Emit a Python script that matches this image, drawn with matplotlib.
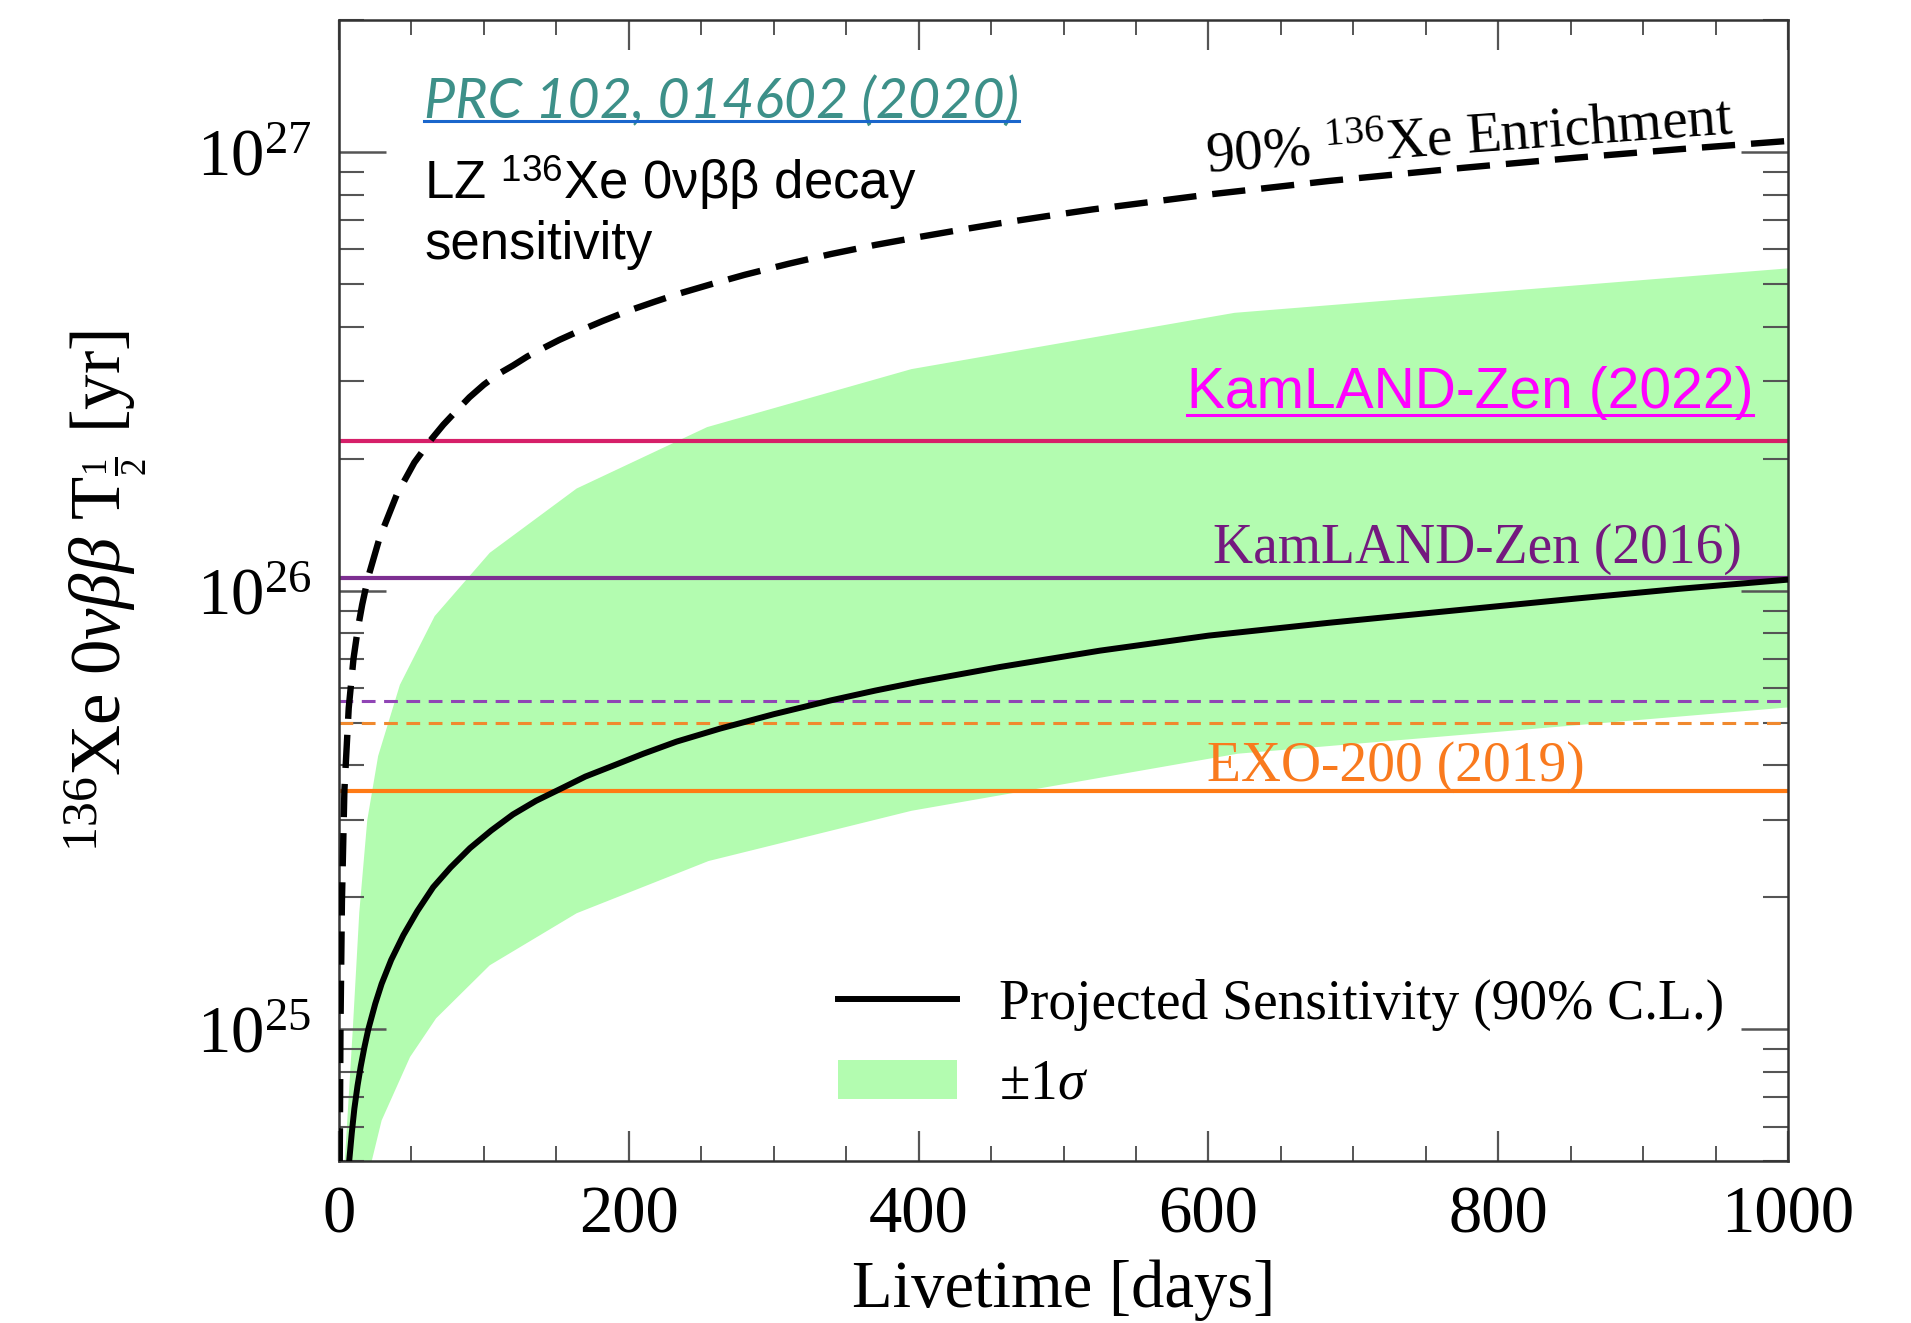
import numpy as np
import matplotlib
matplotlib.use('Agg')
import matplotlib.pyplot as plt
from matplotlib.lines import Line2D
from matplotlib import ticker

plt.rcParams['font.family'] = ['Liberation Serif', 'DejaVu Serif']
plt.rcParams['mathtext.fontset'] = 'custom'
plt.rcParams['mathtext.rm'] = 'Liberation Serif'
plt.rcParams['mathtext.it'] = 'Liberation Serif:italic'
plt.rcParams['mathtext.bf'] = 'Liberation Serif:bold'
plt.rcParams['mathtext.sf'] = 'Liberation Sans'

# ---------------- data ----------------
proj_days = [5, 7, 8.8, 10.6, 12.8, 15, 17.5, 20.2, 25, 29.4, 36, 44.4, 54, 65,
             77, 90.4, 105, 120, 136, 152.5, 170, 189, 210, 233, 263, 300, 339,
             370, 400, 456, 525, 600, 683, 775, 854, 925, 1000]
proj_T = [4.0e24, 5.0e24, 5.8e24, 6.6e24, 7.45e24, 8.24e24, 9.1e24, 1.0e25,
          1.144e25, 1.27e25, 1.44e25, 1.64e25, 1.86e25, 2.11e25, 2.34e25,
          2.59e25, 2.84e25, 3.09e25, 3.32e25, 3.53e25, 3.77e25, 3.99e25,
          4.25e25, 4.53e25, 4.85e25, 5.23e25, 5.62e25, 5.92e25, 6.2e25,
          6.7e25, 7.3e25, 7.9e25, 8.45e25, 9.05e25, 9.6e25, 10.1e25, 10.6e25]

enr_days = [0.5, 1, 2, 3.7, 6.7, 10, 13, 16, 20, 28, 40, 52, 64, 72, 80, 90,
            100, 110, 120, 130, 140, 152, 165, 182, 200, 218, 235, 258, 280,
            310, 339, 370, 400, 428, 456, 488, 520, 600, 683, 775, 854, 925,
            1000]
enr_T = [5e24, 1.0e25, 1.95e25, 3.5e25, 5.4e25, 7.0e25, 8.2e25, 9.3e25,
         1.07e26, 1.32e26, 1.66e26, 1.96e26, 2.22e26, 2.39e26, 2.55e26,
         2.76e26, 2.95e26, 3.12e26, 3.26e26, 3.42e26, 3.56e26, 3.73e26,
         3.90e26, 4.12e26, 4.35e26, 4.56e26, 4.76e26, 5.01e26, 5.25e26,
         5.56e26, 5.85e26, 6.14e26, 6.40e26, 6.64e26, 6.88e26, 7.14e26,
         7.40e26, 8.0e26, 8.59e26, 9.2e26, 9.71e26, 10.15e26, 10.6e26]

band_up_days = [3, 4, 9.5, 14, 19.5, 27, 42, 66, 104, 164, 254, 395, 618, 1000]
band_up_T = [4e24, 5e24, 1.0e25, 1.85e25, 3.0e25, 4.2e25, 6.1e25, 8.75e25,
             1.22e26, 1.71e26, 2.36e26, 3.2e26, 4.3e26, 5.43e26]
band_lo_days = [18, 22.5, 29.4, 49, 67, 104, 164, 255, 395, 620, 1000]
band_lo_T = [4e24, 5e24, 6.2e24, 8.65e24, 1.06e25, 1.40e25, 1.84e25,
             2.42e25, 3.15e25, 4.25e25, 5.42e25]

klz2022 = 2.2e26
klz2016 = 1.07e26
klz_sens = 5.6e25
exo_sens = 5.0e25
exo2019 = 3.5e25

x_major = [0, 200, 400, 600, 800, 1000]

# ---------------- figure ----------------
fig = plt.figure(figsize=(19.11, 13.23), dpi=100)
ax = fig.add_axes([0.1774, 0.1221, 0.7583, 0.8628])
ax.set_yscale('log')
ax.set_xlim(0, 1000)
ax.set_ylim(5e24, 2e27)

green = '#b3fcb0'
band = ax.fill(np.concatenate([band_up_days, band_lo_days[::-1]]),
               np.concatenate([band_up_T, band_lo_T[::-1]]),
               color=green, lw=0, zorder=1, label=r'$\pm1\sigma$')[0]

ax.axhline(klz2022, color='#d61f69', lw=3.0, zorder=2)
ax.axhline(klz2016, color='#7d2f91', lw=3.0, zorder=2)
ax.axhline(klz_sens, color='#9044b5', lw=2.2, ls=(0, (4.5, 2.8)), zorder=2)
ax.axhline(exo_sens, color='#f0892e', lw=2.2, ls=(0, (4.5, 2.8)), zorder=2)
ax.axhline(exo2019, color='#ff7a14', lw=3.0, zorder=2)

ax.plot(enr_days, enr_T, color='black', lw=4.6, ls=(0, (5.2, 2.5)), zorder=4)
proj_line, = ax.plot(proj_days, proj_T, color='black', lw=4.3, zorder=5,
                     label='Projected Sensitivity (90% C.L.)')

# ticks
ax.xaxis.set_major_locator(ticker.FixedLocator(x_major))
ax.xaxis.set_minor_locator(ticker.MultipleLocator(50))
ax.yaxis.set_major_locator(ticker.LogLocator(base=10, numticks=10))
ax.yaxis.set_minor_locator(ticker.LogLocator(base=10, subs=np.arange(2, 10), numticks=50))
ax.yaxis.set_minor_formatter(ticker.NullFormatter())
tc = '#555555'
ax.tick_params(axis='x', which='major', length=21.6, width=1.6, direction='in',
               top=True, labelsize=48, pad=17, color=tc)
ax.tick_params(axis='x', which='minor', length=10.8, width=1.4, direction='in',
               top=True, color=tc)
ax.tick_params(axis='y', which='major', length=34, width=1.8, direction='in',
               right=True, labelsize=48, pad=20, color=tc)
ax.tick_params(axis='y', which='minor', length=18, width=1.5, direction='in',
               right=True, color=tc)
for s in ax.spines.values():
    s.set_linewidth(1.8)
    s.set_color('#333333')

ax.set_xlabel('Livetime [days]', fontsize=48, va='top')
ax.xaxis.set_label_coords(0.5, -0.086)
ax.set_ylabel(r'$^{136}$Xe 0$\nu\beta\beta$ T$_{\frac{1}{2}}$ [yr]', fontsize=51,
              va='center')
ax.yaxis.set_label_coords(-0.161, 0.5)

# legend
ax.legend(handles=[proj_line, band], loc='upper left',
          bbox_to_anchor=(0.344, 0.160), borderpad=0, borderaxespad=0,
          handlelength=2.15, handletextpad=0.75, labelspacing=0.5,
          frameon=False, fontsize=40)

# annotations
t22 = ax.text(976, 2.61e26, 'KamLAND-Zen (2022)', color='#ff00ff', fontsize=41,
              family=['Liberation Sans', 'DejaVu Sans'], ha='right', va='baseline', zorder=6)
ax.text(968, 1.156e26, 'KamLAND-Zen (2016)', color='#74197f', fontsize=40,
        ha='right', va='baseline', zorder=6)
ax.text(729, 3.68e25, 'EXO-200 (2019)', color='#f97a1e', fontsize=40,
        ha='center', va='baseline', zorder=6)
ax.text(599, 9.0e26, r'90% $^{136}$Xe Enrichment', color='black', fontsize=41,
        ha='left', va='baseline', rotation=4.2, rotation_mode='anchor', zorder=6)

prc = ax.text(0.0587, 0.914, 'PRC 102, 014602 (2020)', transform=ax.transAxes,
              color='#3d9089', fontsize=40, family=['Lato', 'DejaVu Sans'],
              style='italic', weight='normal', ha='left', va='baseline', zorder=6)
sans = ['Liberation Sans', 'DejaVu Sans']
ax.text(0.0587, 0.843, r'LZ $^{\mathsf{136}}$Xe 0νββ decay', transform=ax.transAxes,
        color='black', fontsize=38, family=sans, ha='left', va='baseline', zorder=6)
ax.text(0.0587, 0.7906, 'sensitivity', transform=ax.transAxes,
        color='black', fontsize=38, family=sans, ha='left', va='baseline', zorder=6)

# underlines computed from rendered text extents
fig.canvas.draw()
r = fig.canvas.get_renderer()
inv = fig.transFigure.inverted()
for txt, col, off in [(t22, '#ff00ff', 7), (prc, '#1a66cc', 3)]:
    bb = txt.get_window_extent(r)
    xb, yb = txt.get_transform().transform(txt.get_position())
    (fx0, fy), = inv.transform([[bb.x0, yb - off]])
    (fx1, _), = inv.transform([[bb.x1, yb - off]])
    fig.add_artist(Line2D([fx0, fx1], [fy, fy], transform=fig.transFigure,
                          color=col, lw=2.2))

fig.savefig('out.png', dpi=100)
